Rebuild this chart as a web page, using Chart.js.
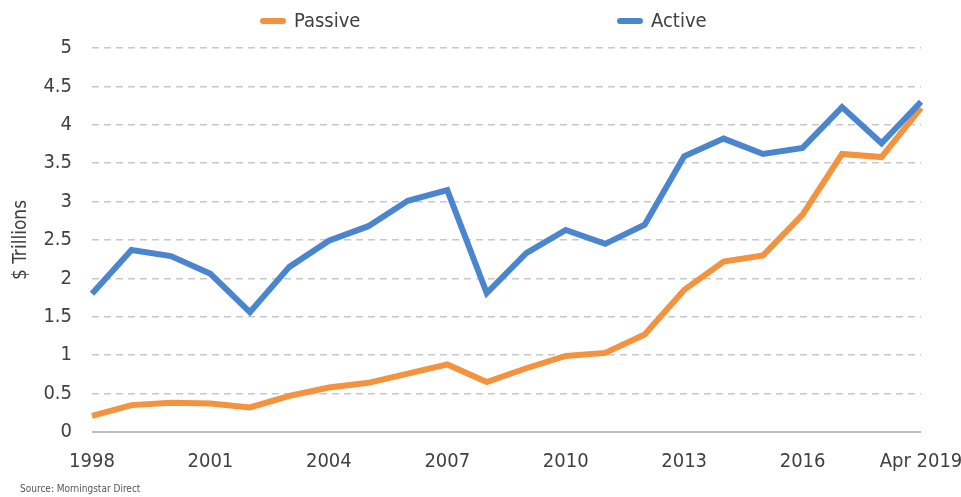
<!DOCTYPE html>
<html>
<head>
<meta charset="utf-8">
<script src="https://cdn.jsdelivr.net/npm/chart.js@4/dist/chart.umd.min.js"></script>
<style>
    body { margin: 0; background: #fff; }
    #wrap { position: relative; width: 961px; height: 497px; font-family: 'Liberation Sans Narrow', 'DejaVu Sans Condensed', sans-serif; }
    #wrap canvas { display: block; }
    #legend { position: absolute; top: 6px; left: 0; width: 961px; height: 28px; }
    .item { position: absolute; top: 0; font-size: 20px; color: #404040; line-height: 28px; }
    .item span.mark { display: inline-block; width: 26px; height: 6px; border-radius: 3px; vertical-align: middle; margin-right: 8px; position: relative; top: -1px; }
    #source { position: absolute; left: 20px; top: 483px; font-size: 10px; color: #555; }
</style>
</head>
<body>
<div id="wrap">
    <canvas id="chart" width="961" height="497"></canvas>
    <div id="legend"></div>
    <div id="source">Source: Morningstar Direct</div>
</div>
<script>
const years = ['1998', '1999', '2000', '2001', '2002', '2003', '2004', '2005', '2006', '2007', '2008',
    '2009', '2010', '2011', '2012', '2013', '2014', '2015', '2016', '2017', '2018', 'Apr 2019'];
const passive = [0.21, 0.35, 0.38, 0.37, 0.32, 0.47, 0.58, 0.64, 0.76, 0.88, 0.65,
    0.83, 0.99, 1.03, 1.27, 1.85, 2.22, 2.30, 2.83, 3.62, 3.58, 4.22];
const active = [1.80, 2.37, 2.29, 2.06, 1.56, 2.15, 2.49, 2.68, 3.01, 3.15, 1.81,
    2.33, 2.63, 2.45, 2.70, 3.59, 3.82, 3.62, 3.70, 4.23, 3.76, 4.30];
const seriesNames = ['Passive', 'Active'];
const seriesColors = ['#F3923F', '#4A86CF'];

const fontFamily = "'Liberation Sans Narrow', 'DejaVu Sans Condensed', sans-serif";

// legend (items spread wide like the original)
const legend = document.getElementById('legend');
const legendX = [260, 617];
seriesNames.forEach((name, i) => {
    const item = document.createElement('div');
    item.className = 'item';
    item.style.left = legendX[i] + 'px';
    item.innerHTML = `<span class="mark" style="background:${seriesColors[i]}"></span>${name}`;
    legend.appendChild(item);
});

const ctx = document.getElementById('chart').getContext('2d');
new Chart(ctx, {
    type: 'line',
    data: {
        labels: years,
        datasets: [
            {
                label: seriesNames[0],
                data: passive,
                borderColor: seriesColors[0],
                backgroundColor: seriesColors[0],
                borderWidth: 6,
                pointRadius: 0,
                tension: 0,
                order: 1,
            },
            {
                label: seriesNames[1],
                data: active,
                borderColor: seriesColors[1],
                backgroundColor: seriesColors[1],
                borderWidth: 6,
                pointRadius: 0,
                tension: 0,
                order: 0,
            },
        ],
    },
    options: {
        responsive: false,
        animation: false,
        layout: { padding: { top: 48, right: 40, bottom: 23, left: 0 } },
        plugins: {
            legend: { display: false },
            tooltip: { enabled: false },
        },
        scales: {
            x: {
                grid: { display: false },
                border: { display: false },
                ticks: {
                    autoSkip: false,
                    maxRotation: 0,
                    padding: 10,
                    color: '#404040',
                    font: { family: fontFamily, size: 20 },
                    callback: function (value, index) {
                        return index % 3 === 0 || index === years.length - 1 ? years[index] : '';
                    },
                },
                afterFit: (scale) => {
                    scale.height = 42;
                    scale.paddingLeft = 0;
                    scale.paddingRight = 0;
                },
            },
            y: {
                min: 0,
                max: 5,
                ticks: {
                    stepSize: 0.5,
                    padding: 20,
                    color: '#404040',
                    font: { family: fontFamily, size: 20 },
                    callback: (value) => String(value),
                },
                grid: {
                    drawTicks: false,
                    lineWidth: (c) => (c.tick && c.tick.value === 0 ? 2 : 1.5),
                    color: (c) => (c.tick && c.tick.value === 0 ? '#BDBDBD' : '#C8C8C8'),
                },
                border: {
                    display: false,
                    dash: (c) => (c.tick && c.tick.value === 0 ? [] : [7, 5]),
                },
                title: {
                    display: true,
                    text: '$ Trillions',
                    color: '#404040',
                    padding: { top: 10, bottom: 0 },
                    font: { family: fontFamily, size: 19 },
                },
                afterFit: (scale) => {
                    scale.width = 92;
                    scale.paddingTop = 0;
                    scale.paddingBottom = 0;
                },
            },
        },
    },
});
</script>
</body>
</html>
